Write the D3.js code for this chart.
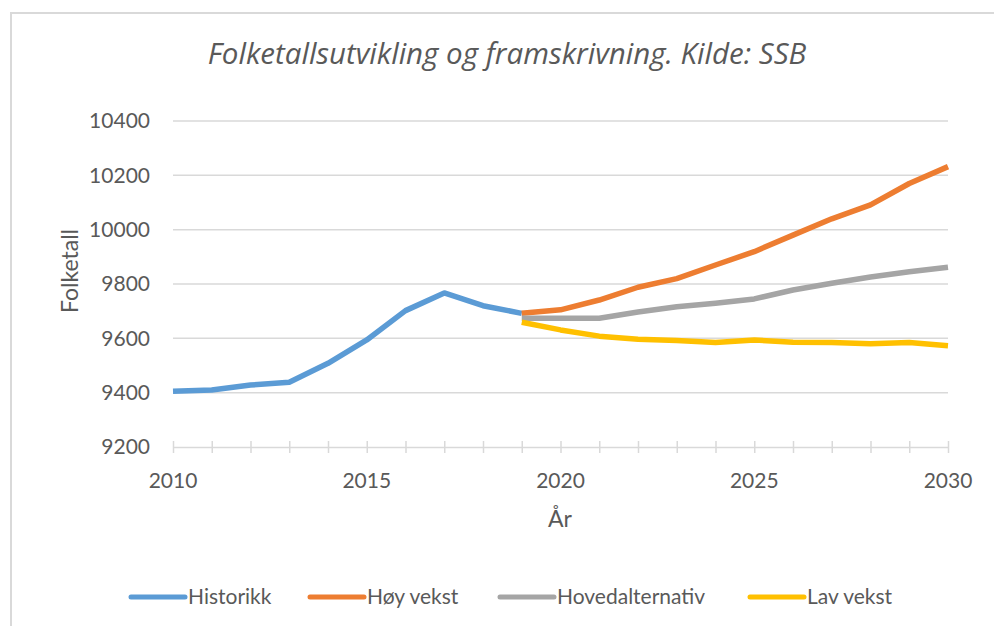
<!DOCTYPE html>
<html>
<head>
<meta charset="utf-8">
<script src="https://cdn.jsdelivr.net/npm/d3@7"></script>
<style>
  body { margin: 0; background: #fff; }
  svg text { font-family: Lato, "Open Sans", sans-serif; fill: #595959; }
</style>
</head>
<body>
<svg></svg>
<script>
var width = 994, height = 626;

// data
var histYears = [2010, 2011, 2012, 2013, 2014, 2015, 2016, 2017, 2018, 2019];
var historikk = [9405, 9410, 9428, 9438, 9508, 9594, 9702, 9767, 9720, 9692];

var projYears = [2019, 2020, 2021, 2022, 2023, 2024, 2025, 2026, 2027, 2028, 2029, 2030];
var hoyVekst = [9692, 9705, 9741, 9788, 9820, 9870, 9919, 9980, 10040, 10091, 10170, 10232];
var hovedalternativ = [9674, 9674, 9674, 9697, 9716, 9729, 9745, 9778, 9803, 9826, 9845, 9862];
var lavVekst = [9659, 9631, 9608, 9597, 9592, 9585, 9594, 9586, 9585, 9580, 9585, 9573];

var yTicks = [9200, 9400, 9600, 9800, 10000, 10200, 10400];
var xLabelTicks = [2010, 2015, 2020, 2025, 2030];

var seriesNames = ["Historikk", "Høy vekst", "Hovedalternativ", "Lav vekst"];
var seriesColors = ["#5b9bd5", "#ed7d31", "#a5a5a5", "#ffc000"];

var series = [
  {name: seriesNames[0], years: histYears, values: historikk},
  {name: seriesNames[1], years: projYears, values: hoyVekst},
  {name: seriesNames[2], years: projYears, values: hovedalternativ},
  {name: seriesNames[3], years: projYears, values: lavVekst}
];

var svg = d3.select("svg")
    .attr("width", width)
    .attr("height", height);

// chart area border
svg.append("path")
    .attr("d", "M11," + height + "V13H" + width)
    .attr("fill", "none")
    .attr("stroke", "#d9d9d9")
    .attr("stroke-width", 2);

var x = d3.scaleLinear().domain([2010, 2030]).range([173, 948]);
var y = d3.scaleLinear().domain([9200, 10400]).range([447, 121]);

// gridlines
svg.append("g")
    .attr("class", "grid")
  .selectAll("line")
    .data(yTicks.slice(1))
  .enter().append("line")
    .attr("x1", x(2010))
    .attr("x2", x(2030))
    .attr("y1", function(d) { return y(d); })
    .attr("y2", function(d) { return y(d); })
    .attr("stroke", "#d9d9d9")
    .attr("stroke-width", 1.5);

// y axis labels (no axis line)
var yAxis = d3.axisLeft(y)
    .tickValues(yTicks)
    .tickSize(0)
    .tickPadding(23)
    .tickFormat(d3.format("d"));

svg.append("g")
    .attr("class", "y axis")
    .attr("transform", "translate(" + x(2010) + ",0)")
    .call(yAxis)
    .call(function(g) { g.select(".domain").remove(); })
    .selectAll("text")
    .style("font-size", "21px")
    .attr("fill", "#595959");

// x axis: line + cross ticks every year
var xAxis = d3.axisBottom(x)
    .tickValues(d3.range(2010, 2031))
    .tickSize(6)
    .tickSizeOuter(0)
    .tickFormat("");

var xg = svg.append("g")
    .attr("class", "x axis")
    .attr("transform", "translate(0," + y(9200) + ")")
    .call(xAxis);
xg.select(".domain").attr("stroke", "#d9d9d9").attr("stroke-width", 1.5);
xg.selectAll(".tick line")
    .attr("y1", -6)
    .attr("y2", 6)
    .attr("stroke", "#d9d9d9")
    .attr("stroke-width", 1.5);

svg.append("g")
  .selectAll("text")
    .data(xLabelTicks)
  .enter().append("text")
    .attr("x", function(d) { return x(d); })
    .attr("y", 488)
    .attr("text-anchor", "middle")
    .style("font-size", "21px")
    .text(function(d) { return d; });

// lines
var line = d3.line()
    .x(function(d) { return x(d[0]); })
    .y(function(d) { return y(d[1]); });

svg.append("g")
  .selectAll("path")
    .data(series)
  .enter().append("path")
    .attr("fill", "none")
    .attr("stroke", function(d, i) { return seriesColors[i]; })
    .attr("stroke-width", 5.5)
    .attr("stroke-linejoin", "round")
    .attr("d", function(d) {
      return line(d.years.map(function(yr, i) { return [yr, d.values[i]]; }));
    });

// title
svg.append("text")
    .attr("x", 507)
    .attr("y", 64)
    .attr("text-anchor", "middle")
    .style("font-family", "'Open Sans', sans-serif")
    .style("font-size", "29.5px")
    .style("font-style", "italic")
    .text("Folketallsutvikling og framskrivning. Kilde: SSB");

// axis titles
svg.append("text")
    .attr("transform", "translate(78,271) rotate(-90)")
    .attr("text-anchor", "middle")
    .style("font-size", "23px")
    .text("Folketall");

svg.append("text")
    .attr("x", 560)
    .attr("y", 527)
    .attr("text-anchor", "middle")
    .style("font-size", "23px")
    .text("År");

// legend
var legendX = [131, 310, 500, 750];
var legend = svg.append("g")
  .selectAll("g")
    .data(seriesNames)
  .enter().append("g")
    .attr("transform", function(d, i) { return "translate(" + legendX[i] + ",597)"; });

legend.append("line")
    .attr("x1", 0)
    .attr("x2", 54)
    .attr("stroke", function(d, i) { return seriesColors[i]; })
    .attr("stroke-width", 5)
    .attr("stroke-linecap", "round");

legend.append("text")
    .attr("x", 57)
    .attr("y", 7)
    .style("font-size", "21px")
    .text(function(d) { return d; });
</script>
</body>
</html>
